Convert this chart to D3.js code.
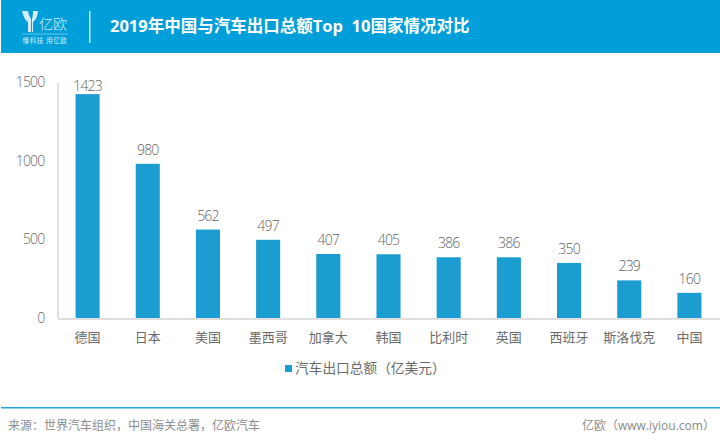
<!DOCTYPE html>
<html>
<head>
<meta charset="utf-8">
<title>2019年中国与汽车出口总额Top 10国家情况对比</title>
<script src="https://cdnjs.cloudflare.com/ajax/libs/d3/7.8.5/d3.min.js"></script>
<style>
    html, body { margin: 0; padding: 0; background: white; overflow: hidden; }
    text { font-family: "Open Sans", "Noto Sans CJK SC", sans-serif; }
</style>
</head>
<body>
<svg id="chart" width="720" height="443"></svg>
<script>
    var countries = ["德国", "日本", "美国", "墨西哥", "加拿大", "韩国", "比利时", "英国", "西班牙", "斯洛伐克", "中国"];
    var exportValues = [1423, 980, 562, 497, 407, 405, 386, 386, 350, 239, 160];
    var yTicks = [0, 500, 1000, 1500];
    var seriesName = "汽车出口总额（亿美元）";
    var chartTitle = "2019年中国与汽车出口总额Top  10国家情况对比";
    var sourceText = "来源：世界汽车组织，中国海关总署，亿欧汽车";
    var siteText = "亿欧（www.iyiou.com）";

    var blue = "#009fd9", barBlue = "#1b9dd1";
    var svg = d3.select("#chart");

    // header band
    svg.append("rect").attr("x", 1).attr("y", 0).attr("width", 719).attr("height", 53).attr("fill", blue);

    // logo
    var logo = svg.append("g").attr("fill", "#d5eef8");
    logo.append("path").attr("d", "M22 11 L28 11 C28.5 15 30 17 31 19 L31 32 L28 32 L28 22 C25 20 23 16 22 11 Z");
    logo.append("path").attr("d", "M38 11 L33 11 C33 15 32.5 17 32 19 L32 32 L33 32 L33 22 C36 20 37.5 16 38 11 Z");
    logo.append("text").attr("x", 39).attr("y", 29).attr("font-size", 14).attr("font-weight", 300)
        .attr("fill", "#d5eef8").text("亿欧");
    svg.append("rect").attr("x", 22).attr("y", 33.5).attr("width", 46).attr("height", 1).attr("fill", "#6cc4e8");
    svg.append("text").attr("x", 45).attr("y", 43).attr("text-anchor", "middle").attr("font-size", 6.5)
        .attr("letter-spacing", 0.6).attr("fill", "#d5eef8").text("懂科技 用亿欧");
    svg.append("rect").attr("x", 89).attr("y", 11).attr("width", 1.5).attr("height", 32).attr("fill", "#bfe6f5");

    svg.append("text").attr("x", 110).attr("y", 32).attr("font-size", 16.5).attr("font-weight", 700)
        .attr("fill", "white").style("white-space", "pre").text(chartTitle);

    // scales
    var x = d3.scaleBand().domain(countries).range([57.5, 719.5]).paddingInner(0.6).paddingOuter(0.3);
    var y = d3.scaleLinear().domain([0, 1500]).range([318, 82]);

    // axes
    var yAxis = svg.append("g").attr("transform", "translate(57.5,0)")
        .call(d3.axisLeft(y).tickValues(yTicks).tickFormat(d3.format("d")).tickSize(0).tickPadding(13));
    yAxis.select(".domain").attr("stroke", "#bfbfbf");
    yAxis.selectAll("text").attr("font-size", 14).attr("fill", "#666666").attr("dy", "0.32em")
        .attr("font-weight", 300).attr("letter-spacing", -0.8)
        .style("font-family", "'Open Sans'");

    var xAxis = svg.append("g").attr("transform", "translate(0,318.5)")
        .call(d3.axisBottom(x).tickSize(0).tickPadding(14));
    xAxis.select(".domain").attr("stroke", "#bfbfbf");
    xAxis.selectAll("text").attr("font-size", 13).attr("fill", "#6a6a6a")
        .style("font-family", "'Noto Sans CJK SC'");

    // bars
    svg.selectAll("rect.bar").data(exportValues).enter().append("rect").attr("class", "bar")
        .attr("x", function(d, i) { return x(countries[i]); })
        .attr("y", function(d) { return y(d); })
        .attr("width", x.bandwidth())
        .attr("height", function(d) { return y(0) - y(d); })
        .attr("fill", barBlue);

    // value labels, the tallest one is held down inside the plot top
    svg.selectAll("text.val").data(exportValues).enter().append("text").attr("class", "val")
        .attr("x", function(d, i) { return x(countries[i]) + x.bandwidth() / 2; })
        .attr("y", function(d) { return Math.max(y(d) - 9, y(1500) + 9); })
        .attr("text-anchor", "middle").attr("font-size", 14).attr("fill", "#5f5f5f")
        .attr("font-weight", 300).attr("letter-spacing", -0.8)
        .style("font-family", "'Open Sans'")
        .text(function(d) { return d; });

    // legend
    svg.append("rect").attr("x", 285).attr("y", 365).attr("width", 7).attr("height", 7).attr("fill", barBlue);
    svg.append("text").attr("x", 295).attr("y", 373).attr("font-size", 13.7).attr("fill", "#6a6a6a")
        .style("font-family", "'Noto Sans CJK SC'").text(seriesName);

    // footer
    svg.append("rect").attr("x", 1).attr("y", 407).attr("width", 719).attr("height", 1.5).attr("fill", "#1fa5dc");
    svg.append("text").attr("x", 8).attr("y", 430).attr("font-size", 12).attr("fill", "#8c8c8c")
        .style("font-family", "'Noto Sans CJK SC'").text(sourceText);
    svg.append("text").attr("x", 582).attr("y", 430).attr("font-size", 12).attr("fill", "#8c8c8c")
        .style("font-family", "'Open Sans','Noto Sans CJK SC'").text(siteText);
</script>
</body>
</html>
